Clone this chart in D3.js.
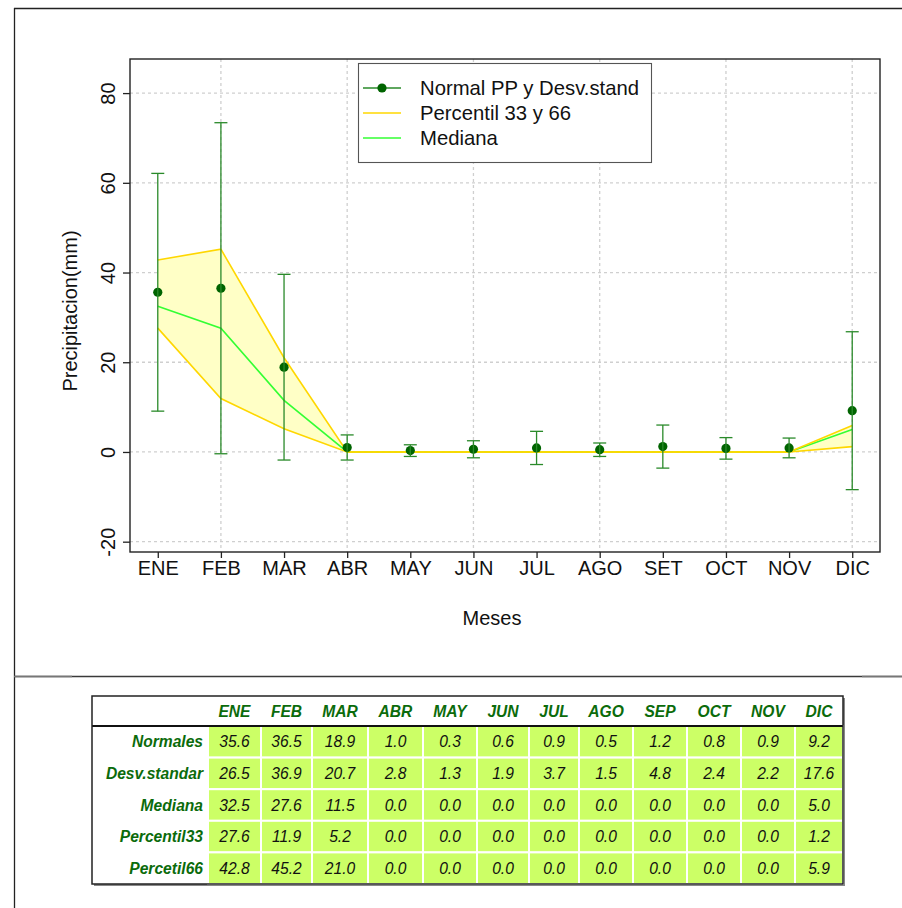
<!DOCTYPE html>
<html>
<head>
<meta charset="utf-8">
<script src="https://cdn.jsdelivr.net/npm/d3@7"></script>
<style>
  body { margin: 0; background: #fff; }
  svg { display: block; font-family: "Liberation Sans", Arial, Helvetica, sans-serif; }
</style>
</head>
<body>
<svg id="chart" width="902" height="908"></svg>
<script>
// ---- data ----
const months = ["ENE","FEB","MAR","ABR","MAY","JUN","JUL","AGO","SEP","OCT","NOV","DIC"];
const axisMonths = ["ENE","FEB","MAR","ABR","MAY","JUN","JUL","AGO","SET","OCT","NOV","DIC"];
const normales = [35.6, 36.5, 18.9, 1.0, 0.3, 0.6, 0.9, 0.5, 1.2, 0.8, 0.9, 9.2];
const desv     = [26.5, 36.9, 20.7, 2.8, 1.3, 1.9, 3.7, 1.5, 4.8, 2.4, 2.2, 17.6];
const mediana  = [32.5, 27.6, 11.5, 0.0, 0.0, 0.0, 0.0, 0.0, 0.0, 0.0, 0.0, 5.0];
const p33      = [27.6, 11.9, 5.2, 0.0, 0.0, 0.0, 0.0, 0.0, 0.0, 0.0, 0.0, 1.2];
const p66      = [42.8, 45.2, 21.0, 0.0, 0.0, 0.0, 0.0, 0.0, 0.0, 0.0, 0.0, 5.9];
const yTicks   = [-20, 0, 20, 40, 60, 80];
const gridMonths = [2, 4, 6, 8, 10, 12];
const rowNames = ["Normales", "Desv.standar", "Mediana", "Percentil33", "Percetil66"];
const tableRows = [normales, desv, mediana, p33, p66];
const legendLabels = ["Normal PP y Desv.stand", "Percentil 33 y 66", "Mediana"];

// ---- layout ----
const svg = d3.select("#chart");
const plot = {left: 130, right: 880, top: 59, bottom: 552};
const x = d3.scaleLinear().domain([0.56, 12.44]).range([plot.left, plot.right]);
const y = d3.scaleLinear().domain([-22.3, 87.6]).range([plot.bottom, plot.top]);

const C = {
  point: "#006400", err: "#2a8a2a", gold: "#FFD700", fill: "#FFFFC6",
  med: "#33FF33", grid: "#cfcfcf", cell: "#CCFF66", head: "#0b6b0b"
};

// outer frame
svg.append("line").attr("x1", 14.5).attr("x2", 14.5).attr("y1", 8).attr("y2", 908).attr("stroke", "#222").attr("stroke-width", 1.3);
svg.append("line").attr("x1", 14).attr("x2", 902).attr("y1", 8.5).attr("y2", 8.5).attr("stroke", "#222").attr("stroke-width", 1.3);
svg.append("line").attr("x1", 14).attr("x2", 902).attr("y1", 676.5).attr("y2", 676.5).attr("stroke", "#3a3a3a").attr("stroke-width", 1.3);
svg.append("line").attr("x1", 14).attr("x2", 72).attr("y1", 676.5).attr("y2", 676.5).attr("stroke", "#777").attr("stroke-width", 1.3);
svg.append("line").attr("x1", 862).attr("x2", 902).attr("y1", 676.5).attr("y2", 676.5).attr("stroke", "#777").attr("stroke-width", 1.3);

// grid
const g = svg.append("g");
g.selectAll(".hg").data(yTicks).join("line")
  .attr("x1", plot.left).attr("x2", plot.right)
  .attr("y1", d => y(d)).attr("y2", d => y(d))
  .attr("stroke", C.grid).attr("stroke-width", 1.3).attr("stroke-dasharray", "3,3");
g.selectAll(".vg").data(gridMonths).join("line")
  .attr("x1", d => x(d)).attr("x2", d => x(d))
  .attr("y1", plot.top).attr("y2", plot.bottom)
  .attr("stroke", C.grid).attr("stroke-width", 1.3).attr("stroke-dasharray", "3,3");

// band between percentiles
const idx = d3.range(12);
const area = d3.area().x(i => x(i + 1)).y0(i => y(p33[i])).y1(i => y(p66[i]));
g.append("path").datum(idx).attr("d", area).attr("fill", C.fill).attr("stroke", "none");
const lineOf = arr => d3.line().x(i => x(i + 1)).y(i => y(arr[i]));
g.append("path").datum(idx).attr("d", lineOf(mediana)).attr("fill", "none").attr("stroke", C.med).attr("stroke-width", 1.6);
g.append("path").datum(idx).attr("d", lineOf(p33)).attr("fill", "none").attr("stroke", C.gold).attr("stroke-width", 1.6);
g.append("path").datum(idx).attr("d", lineOf(p66)).attr("fill", "none").attr("stroke", C.gold).attr("stroke-width", 1.6);

// points
g.selectAll(".pt").data(idx).join("circle")
  .attr("cx", i => x(i + 1)).attr("cy", i => y(normales[i])).attr("r", 4.6).attr("fill", C.point);
// error bars
const cap = 6.5;
idx.forEach(i => {
  const xc = x(i + 1), lo = y(normales[i] - desv[i]), hi = y(normales[i] + desv[i]);
  g.append("line").attr("x1", xc).attr("x2", xc).attr("y1", lo).attr("y2", hi).attr("stroke", C.err).attr("stroke-width", 1.3);
  g.append("line").attr("x1", xc - cap).attr("x2", xc + cap).attr("y1", lo).attr("y2", lo).attr("stroke", C.err).attr("stroke-width", 1.3);
  g.append("line").attr("x1", xc - cap).attr("x2", xc + cap).attr("y1", hi).attr("y2", hi).attr("stroke", C.err).attr("stroke-width", 1.3);
});

// plot box
svg.append("rect").attr("x", plot.left).attr("y", plot.top)
  .attr("width", plot.right - plot.left).attr("height", plot.bottom - plot.top)
  .attr("fill", "none").attr("stroke", "#222").attr("stroke-width", 1.4);

// axes
const xAxis = d3.axisBottom(x).tickValues(d3.range(1, 13)).tickFormat(d => axisMonths[d - 1]).tickSize(6).tickPadding(4);
const xa = svg.append("g").attr("transform", `translate(0,${plot.bottom})`).call(xAxis);
xa.select(".domain").remove();
xa.selectAll("line").attr("stroke", "#222").attr("stroke-width", 1.3);
xa.selectAll("text").attr("font-size", 20).attr("fill", "#111").attr("font-family", "Liberation Sans, Arial, sans-serif")
  .attr("dy", null).attr("y", 23);

const yAxis = d3.axisLeft(y).tickValues(yTicks).tickSize(7).tickFormat(d => String(d));
const ya = svg.append("g").attr("transform", `translate(${plot.left},0)`).call(yAxis);
ya.select(".domain").remove();
ya.selectAll("line").attr("stroke", "#222").attr("stroke-width", 1.3);
ya.selectAll("text").attr("font-size", 20).attr("fill", "#111").attr("font-family", "Liberation Sans, Arial, sans-serif")
  .attr("x", null).attr("dy", null).attr("text-anchor", "middle")
  .attr("transform", "translate(-15,0) rotate(-90)").attr("x", 0).attr("y", 0);

// axis titles
svg.append("text").attr("x", 492).attr("y", 625).attr("text-anchor", "middle").attr("font-size", 20).attr("fill", "#111").text("Meses");
svg.append("text").attr("transform", "translate(77,311) rotate(-90)").attr("text-anchor", "middle").attr("font-size", 20).attr("fill", "#111").text("Precipitacion(mm)");

// legend
const lg = svg.append("g");
lg.append("rect").attr("x", 358.5).attr("y", 63.5).attr("width", 293).attr("height", 99).attr("fill", "#fff").attr("stroke", "#555").attr("stroke-width", 1.1);
const ly = [88, 113, 138];
const lcol = [C.err, C.gold, C.med];
legendLabels.forEach((t, i) => {
  lg.append("line").attr("x1", 363).attr("x2", 401).attr("y1", ly[i]).attr("y2", ly[i]).attr("stroke", lcol[i]).attr("stroke-width", 1.5);
  if (i === 0) lg.append("circle").attr("cx", 382).attr("cy", ly[i]).attr("r", 4.6).attr("fill", C.point);
  lg.append("text").attr("x", 420).attr("y", ly[i] + 7).attr("font-size", 20.3).attr("fill", "#111").text(t);
});

// ---- table ----
const colEdges = [92, 208, 261, 312, 368, 423, 477, 529, 579, 633, 687, 741, 795, 843];
const tTop = 696, headBottom = 726, rowH = 31.6, tBottom = 884;
const tg = svg.append("g");
// shadow
tg.append("rect").attr("x", 94).attr("y", 698).attr("width", colEdges[13] - 92).attr("height", tBottom - tTop).attr("fill", "#888");
tg.append("rect").attr("x", 92).attr("y", tTop).attr("width", colEdges[13] - 92).attr("height", tBottom - tTop).attr("fill", "#fff");
// cells
tableRows.forEach((row, r) => {
  row.forEach((v, c) => {
    const x0 = colEdges[c + 1], x1 = colEdges[c + 2];
    const y0 = headBottom + r * rowH;
    tg.append("rect").attr("x", x0).attr("y", y0).attr("width", x1 - x0).attr("height", rowH)
      .attr("fill", C.cell).attr("stroke", "#fff").attr("stroke-width", 2);
    tg.append("text").attr("x", (x0 + x1) / 2).attr("y", y0 + rowH / 2 + 5.5)
      .attr("text-anchor", "middle").attr("font-size", 15.6).attr("font-style", "italic").attr("fill", "#111")
      .text(v.toFixed(1));
  });
  tg.append("text").attr("x", 203).attr("y", headBottom + r * rowH + rowH / 2 + 5.5)
    .attr("text-anchor", "end").attr("font-size", 15.6).attr("font-style", "italic").attr("font-weight", "bold")
    .attr("fill", C.head).text(rowNames[r]);
});
months.forEach((m, c) => {
  tg.append("text").attr("x", (colEdges[c + 1] + colEdges[c + 2]) / 2).attr("y", 717)
    .attr("text-anchor", "middle").attr("font-size", 15.6).attr("font-style", "italic").attr("font-weight", "bold")
    .attr("fill", C.head).text(m);
});
// header separator and border
tg.append("line").attr("x1", 92).attr("x2", colEdges[13]).attr("y1", headBottom).attr("y2", headBottom).attr("stroke", "#111").attr("stroke-width", 2);
tg.append("rect").attr("x", 92).attr("y", tTop).attr("width", colEdges[13] - 92).attr("height", tBottom - tTop)
  .attr("fill", "none").attr("stroke", "#222").attr("stroke-width", 1.5);
</script>
</body>
</html>
